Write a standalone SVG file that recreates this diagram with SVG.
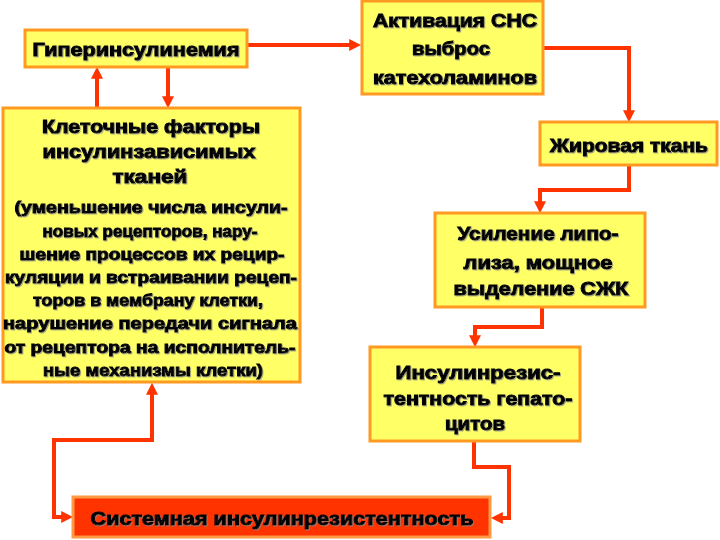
<svg xmlns="http://www.w3.org/2000/svg" width="720" height="540" viewBox="0 0 720 540">
<style>
.box{fill:#ffff66;stroke:#ff9922;stroke-width:3}
.red{fill:#ff3300;stroke:#ff9944;stroke-width:3}
.t{font-family:"Liberation Sans",Arial,sans-serif;font-weight:bold;font-size:19px;fill:#000;stroke:#000;stroke-width:1;text-anchor:middle;dominant-baseline:central;filter:url(#sh)}
.s{font-size:16px;stroke-width:0.9}
.c{fill:none;stroke:#ff3300;stroke-width:4;stroke-linejoin:miter}
</style>
<defs>
<marker id="ah" viewBox="0 0 10 10" refX="4" refY="5" markerWidth="12" markerHeight="12" markerUnits="userSpaceOnUse" orient="auto-start-reverse">
<path d="M0,0 L10,5 L0,10 z" fill="#ff3300"/>
</marker>
<filter id="sh" x="-5%" y="-20%" width="110%" height="140%">
<feDropShadow dx="1" dy="1" stdDeviation="0.5" flood-color="#888" flood-opacity="0.7"/>
</filter>
</defs>
<g id="connectors">
<path class="c" d="M247,45 H354" marker-end="url(#ah)"/>
<path class="c" d="M97,108 V74" marker-end="url(#ah)"/>
<path class="c" d="M168,67 V101" marker-end="url(#ah)"/>
<path class="c" d="M543,48 H629 V115" marker-end="url(#ah)"/>
<path class="c" d="M629,165 V190 H540 V206" marker-end="url(#ah)"/>
<path class="c" d="M542,307 V327 H475 V340" marker-end="url(#ah)"/>
<path class="c" d="M474,441 V467 H509 V518 H498" marker-end="url(#ah)"/>
<path class="c" d="M66,517 H54 V440 H152 V390" marker-start="url(#ah)" marker-end="url(#ah)"/>
</g>
<g id="hyperinsulinemia">
<rect class="box" x="25" y="30" width="222" height="37"/>
<text class="t" x="136" y="49" textLength="207" lengthAdjust="spacingAndGlyphs">Гиперинсулинемия</text>
</g>
<g id="cell-factors">
<rect class="box" x="3" y="108" width="297" height="274"/>
<text class="t" x="151" y="126" textLength="218" lengthAdjust="spacingAndGlyphs">Клеточные факторы</text>
<text class="t" x="149" y="151" textLength="213" lengthAdjust="spacingAndGlyphs">инсулинзависимых</text>
<text class="t" x="150" y="176" textLength="75" lengthAdjust="spacingAndGlyphs">тканей</text>
<text class="t s" x="151" y="207" textLength="273" lengthAdjust="spacingAndGlyphs">(уменьшение числа инсули-</text>
<text class="t s" x="150" y="231" textLength="215" lengthAdjust="spacingAndGlyphs">новых рецепторов, нару-</text>
<text class="t s" x="152" y="254" textLength="265" lengthAdjust="spacingAndGlyphs">шение процессов их рецир-</text>
<text class="t s" x="151" y="277" textLength="292" lengthAdjust="spacingAndGlyphs">куляции и встраивании рецеп-</text>
<text class="t s" x="148" y="300" textLength="230" lengthAdjust="spacingAndGlyphs">торов в мембрану клетки,</text>
<text class="t s" x="150" y="323" textLength="294" lengthAdjust="spacingAndGlyphs">нарушение передачи сигнала</text>
<text class="t s" x="150" y="347" textLength="291" lengthAdjust="spacingAndGlyphs">от рецептора на исполнитель-</text>
<text class="t s" x="153" y="370" textLength="220" lengthAdjust="spacingAndGlyphs">ные механизмы клетки)</text>
</g>
<g id="sns">
<rect class="box" x="362" y="1" width="181" height="93"/>
<text class="t" x="455" y="20" textLength="164" lengthAdjust="spacingAndGlyphs">Активация СНС</text>
<text class="t" x="451" y="48" textLength="78" lengthAdjust="spacingAndGlyphs">выброс</text>
<text class="t" x="455" y="77" textLength="164" lengthAdjust="spacingAndGlyphs">катехоламинов</text>
</g>
<g id="fat">
<rect class="box" x="540" y="122" width="177" height="43"/>
<text class="t" x="629" y="145" textLength="158" lengthAdjust="spacingAndGlyphs">Жировая ткань</text>
</g>
<g id="lipolysis">
<rect class="box" x="435" y="213" width="210" height="94"/>
<text class="t" x="538" y="233" textLength="161" lengthAdjust="spacingAndGlyphs">Усиление липо-</text>
<text class="t" x="538" y="262" textLength="149" lengthAdjust="spacingAndGlyphs">лиза, мощное</text>
<text class="t" x="541" y="288" textLength="175" lengthAdjust="spacingAndGlyphs">выделение СЖК</text>
</g>
<g id="hepatocytes">
<rect class="box" x="370" y="347" width="210" height="94"/>
<text class="t" x="478" y="372" textLength="165" lengthAdjust="spacingAndGlyphs">Инсулинрезис-</text>
<text class="t" x="478" y="398" textLength="189" lengthAdjust="spacingAndGlyphs">тентность гепато-</text>
<text class="t" x="475" y="423" textLength="60" lengthAdjust="spacingAndGlyphs">цитов</text>
</g>
<g id="systemic">
<rect class="red" x="73" y="497" width="417" height="40"/>
<text class="t" x="282" y="518" textLength="383" lengthAdjust="spacingAndGlyphs">Системная инсулинрезистентность</text>
</g>
</svg>
